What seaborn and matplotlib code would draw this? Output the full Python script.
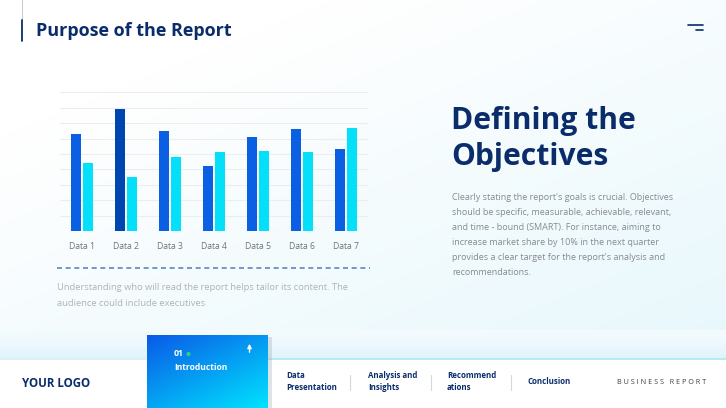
import numpy as np
import pandas as pd
import matplotlib
matplotlib.use("Agg")
import matplotlib.pyplot as plt
import seaborn as sns
from matplotlib.patches import Rectangle, Circle

# ---------------- data ----------------
categories = ["Data 1", "Data 2", "Data 3", "Data 4", "Data 5", "Data 6", "Data 7"]
series_a = [63, 79, 65, 42, 61, 66, 53]
series_b = [44, 35, 48, 51, 52, 51, 67]
series_names = ["Series A", "Series B"]
y_ticks = [0, 10, 20, 30, 40, 50, 60, 70, 80, 90]

nav_items = ["Data\nPresentation", "Analysis and\nInsights", "Recommend\nations", "Conclusion"]

df = pd.DataFrame({
    "category": categories * 2,
    "value": series_a + series_b,
    "series": [series_names[0]] * len(categories) + [series_names[1]] * len(categories),
})

W, H = 726, 408
sns.set_theme(style="white")
FONT = ["Open Sans", "DejaVu Sans"]
plt.rcParams["font.family"] = FONT

NAVY = "#0b2c6b"
fig = plt.figure(figsize=(W / 100, H / 100), dpi=100)

# ---------------- background layer (pixel coords) ----------------
bg = fig.add_axes([0, 0, 1, 1])
bg.set_xlim(0, W)
bg.set_ylim(H, 0)
bg.axis("off")

yy, xx = np.mgrid[0:H, 0:W]
t = np.clip((xx / W) * 0.55 + (yy / H) * 0.75 - 0.25, 0, 1)
c0 = np.array([1.0, 1.0, 1.0])
c1 = np.array([0xe6, 0xf7, 0xfc]) / 255
img = c0[None, None, :] * (1 - t[..., None]) + c1[None, None, :] * t[..., None]
bg.imshow(img, extent=[0, W, H, 0], aspect="auto", zorder=0)

# band above footer
band_h = 28
g = np.linspace(0, 1, band_h)[:, None] ** 1.5
ca = np.array([0xf3, 0xfb, 0xfe]) / 255
cb = np.array([0xe0, 0xf3, 0xfb]) / 255
band = ca[None, None, :] * (1 - g[..., None]) + cb[None, None, :] * g[..., None]
band = np.repeat(band, 10, axis=1)
bg.imshow(band, extent=[0, W, 358, 330], aspect="auto", zorder=1)
# footer white
bg.add_patch(Rectangle((0, 358), W, 50, facecolor="white", edgecolor="none", zorder=2))
bg.plot([268, W], [358.5, 358.5], color="#9fe6f6", lw=1.4, zorder=3, alpha=0.8)
bg.plot([0, 147], [358.5, 358.5], color="#d6eef9", lw=1.2, zorder=3)

# intro box shadow + gradient
bg.add_patch(Rectangle((150, 337), 122, 72, facecolor="#9aa3ad", edgecolor="none", alpha=0.3, zorder=3))
yy2, xx2 = np.mgrid[0:73, 0:121]
tt = np.clip(0.55 * yy2 / 73 + 0.45 * xx2 / 121, 0, 1)
cA = np.array([0x0a, 0x5a, 0xe6]) / 255
cB = np.array([0x00, 0xe4, 0xff]) / 255
box = cA[None, None, :] * (1 - tt[..., None]) + cB[None, None, :] * tt[..., None]
bg.imshow(box, extent=[147, 268, 408, 335], aspect="auto", zorder=4)
bg.text(174, 354, "01", color="white", fontsize=6.3, fontweight="bold", va="center", zorder=5)
bg.add_patch(Circle((188.5, 354), 1.4, color="#33d17a", zorder=5))
bg.text(174, 367, "Introduction", color="white", fontsize=6.1, fontweight="bold", va="center", zorder=5)
bg.annotate("", xy=(249.5, 341), xytext=(249.5, 355),
            arrowprops=dict(arrowstyle="-|>", color="white", lw=1.0, mutation_scale=6), zorder=5)

# header
bg.plot([22, 22], [0, 19], color="#c9ccd2", lw=0.8, zorder=3)
bg.plot([22, 22], [20, 41], color=NAVY, lw=1.3, zorder=3)
bg.text(36, 31, "Purpose of the Report", color=NAVY, fontsize=13, fontweight="bold", va="center", zorder=3)
bg.plot([688, 703], [24.5, 24.5], color=NAVY, lw=1.2, zorder=3)
bg.plot([696, 703], [30, 30], color=NAVY, lw=1.2, zorder=3)

# right text block
bg.text(451, 121, "Defining the", color=NAVY, fontsize=21.6, fontweight="bold", va="center", zorder=3)
bg.text(451, 157, "Objectives", color=NAVY, fontsize=21.6, fontweight="bold", va="center", zorder=3)
para = ["Clearly stating the report's goals is crucial. Objectives",
        "should be specific, measurable, achievable, relevant,",
        "and time - bound (SMART). For instance, aiming to",
        "increase market share by 10% in the next quarter",
        "provides a clear target for the report's analysis and",
        "recommendations."]
for i, line in enumerate(para):
    bg.text(452, 198 + i * 14.9, line, color="#858a93", fontsize=6.45, va="center", zorder=3)

# dashed line + note under chart
bg.plot([57, 370], [267.5, 267.5], color="#5a86c6", lw=1.2, ls=(0, (3, 2.2)), zorder=3)
bg.text(57, 288, "Understanding who will read the report helps tailor its content. The",
        color="#aeb3ba", fontsize=6.75, va="center", zorder=3)
bg.text(57, 304, "audience could include executives", color="#aeb3ba", fontsize=6.75, va="center", zorder=3)

# footer texts
bg.text(22, 383.5, "YOUR LOGO", color=NAVY, fontsize=8.3, fontweight="bold", va="center", zorder=5)
nav_x = [286, 368, 447, 528]
for x, label in zip(nav_x, nav_items):
    bg.text(x, 381.5, label, color=NAVY, fontsize=5.7, fontweight="bold", va="center",
            linespacing=1.55, zorder=5)
for x in [349.5, 430.5, 510.5]:
    bg.plot([x, x], [375, 390], color="#d5d8dc", lw=0.8, zorder=5)
bg.text(617, 382, "B U S I N E S S   R E P O R T", color="#3a3f47", fontsize=5.2, va="center", zorder=5)

# ---------------- chart ----------------
x0, x1 = 60, 368
ytop, ybase = 92.3, 231
ax = fig.add_axes([x0 / W, 1 - ybase / H, (x1 - x0) / W, (ybase - ytop) / H])
ax.patch.set_alpha(0)
sns.barplot(data=df, x="category", y="value", hue="series",
            palette=["#0a5fe3", "#04e0fa"], width=0.56, gap=0.19,
            saturation=1, legend=False, ax=ax, zorder=3)
# highlighted bar (Data 2, first series)
ax.containers[0][1].set_facecolor("#0046b0")
for p in ax.patches:
    p.set_edgecolor("none")
ax.set_xlim(-0.5, len(categories) - 0.5)
ax.set_ylim(0, 90)
ax.set_yticks(y_ticks)
ax.set_yticklabels([])
ax.yaxis.grid(True, color="#ebedf0", lw=0.8, zorder=0)
ax.set_axisbelow(True)
for s in ax.spines.values():
    s.set_visible(False)
ax.set_xlabel("")
ax.set_ylabel("")
ax.tick_params(axis="x", length=0, pad=8, labelsize=6.2, labelcolor="#6f747c")
ax.tick_params(axis="y", length=0)
for lab in ax.get_xticklabels():
    lab.set_fontfamily(FONT)

fig.savefig("out.png", dpi=100)
